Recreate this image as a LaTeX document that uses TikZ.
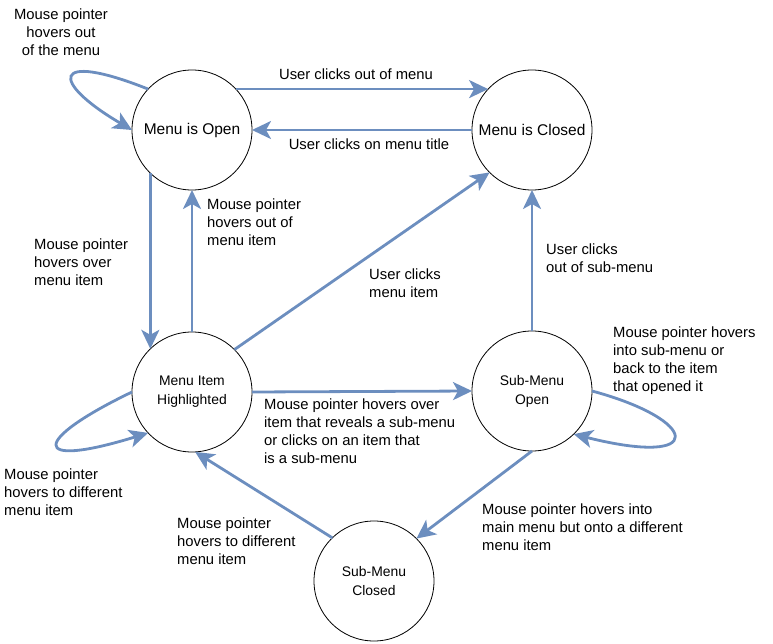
\documentclass[tikz,border=0pt]{standalone}
\usepackage{fontspec}
\setmainfont{Liberation Sans}
\usetikzlibrary{arrows.meta}
\definecolor{edgeblue}{HTML}{6C8EBF}
\tikzset{
  % Set arrowhead
  >={Stealth[length=19pt, width=18pt, inset=5pt]},
  % State node
  state/.style={draw, fill=white, shape=circle, minimum size=120pt,
    inner sep=0pt, outer sep=0pt, line width=0.8pt, align=center},
  bigstate/.style={state, font=\fontsize{15.5}{18}\selectfont},
  smallstate/.style={state, font=\fontsize{13.9}{19}\selectfont},
  % Transition arrows
  trans/.style={->, draw=edgeblue, line width=2.8pt},
  % Transition labels
  lbl/.style={align=left, anchor=west, inner sep=0pt,
    font=\fontsize{14.8}{18}\selectfont},
}

\begin{document}
\begin{tikzpicture}[x=1pt, y=-1pt]
  \useasboundingbox (0,0) rectangle (773,644);

  \node[bigstate] (open) at (192,130) {Menu is Open};
  \node[bigstate] (closed) at (532,130) {Menu is Closed};
  \node[smallstate] (hi) at (192,392) {Menu Item\\Highlighted};
  \node[smallstate] (subopen) at (532,391) {Sub-Menu\\Open};
  \node[smallstate] (subclosed) at (374,581) {Sub-Menu\\Closed};

  % self loops
  \draw[trans] (open.137) .. controls (50,50) and (50,82) .. (open.180);
  \draw[trans] (hi.180) .. controls (32,440) and (28,470) .. (hi.223);
  \draw[trans] (subopen.0) .. controls (700,420) and (708,468) .. (subopen.314);

  \draw[trans] (open.43) -- (closed.137);
  \draw[trans] (closed.180) -- (open.0);
  \draw[trans] (open.226) -- (hi.134);
  \draw[trans] (hi.90) -- (open.270);
  \draw[trans] (hi.45) -- (closed.225);
  \draw[trans] (hi.0) -- (subopen.180);
  \draw[trans] (subopen.90) -- (closed.270);
  \draw[trans] (subopen.270) -- (subclosed.45);
  \draw[trans] (subclosed.134) -- (hi.273);

  % labels
  \node[lbl, align=center, anchor=center] (l-openloop) at (61,32)
    {Mouse pointer\\hovers out\\of the menu};
  \node[lbl, anchor=center] (l-close) at (356,74) {User clicks out of menu};
  \node[lbl, anchor=center] (l-title) at (369,144) {User clicks on menu title};
  \node[lbl] (l-over) at (34,262) {Mouse pointer\\hovers over\\menu item};
  \node[lbl] (l-outitem) at (207,222) {Mouse pointer\\hovers out of\\menu item};
  \node[lbl] (l-clickitem) at (369,283) {User clicks\\menu item};
  \node[lbl] (l-reveal) at (264,431) {Mouse pointer hovers over\\item that reveals a sub-menu\\or clicks on an item that\\is a sub-menu};
  \node[lbl] (l-outsub) at (546,258) {User clicks\\out of sub-menu};
  \node[lbl] (l-into) at (613,361) {Mouse pointer hovers\\into sub-menu or\\back to the item\\that opened it};
  \node[lbl] (l-diff1) at (4,492) {Mouse pointer\\hovers to different\\menu item};
  \node[lbl] (l-diff2) at (177,541) {Mouse pointer\\hovers to different\\menu item};
  \node[lbl] (l-main) at (482,527) {Mouse pointer hovers into\\main menu but onto a different\\menu item};
\end{tikzpicture}
\end{document}
